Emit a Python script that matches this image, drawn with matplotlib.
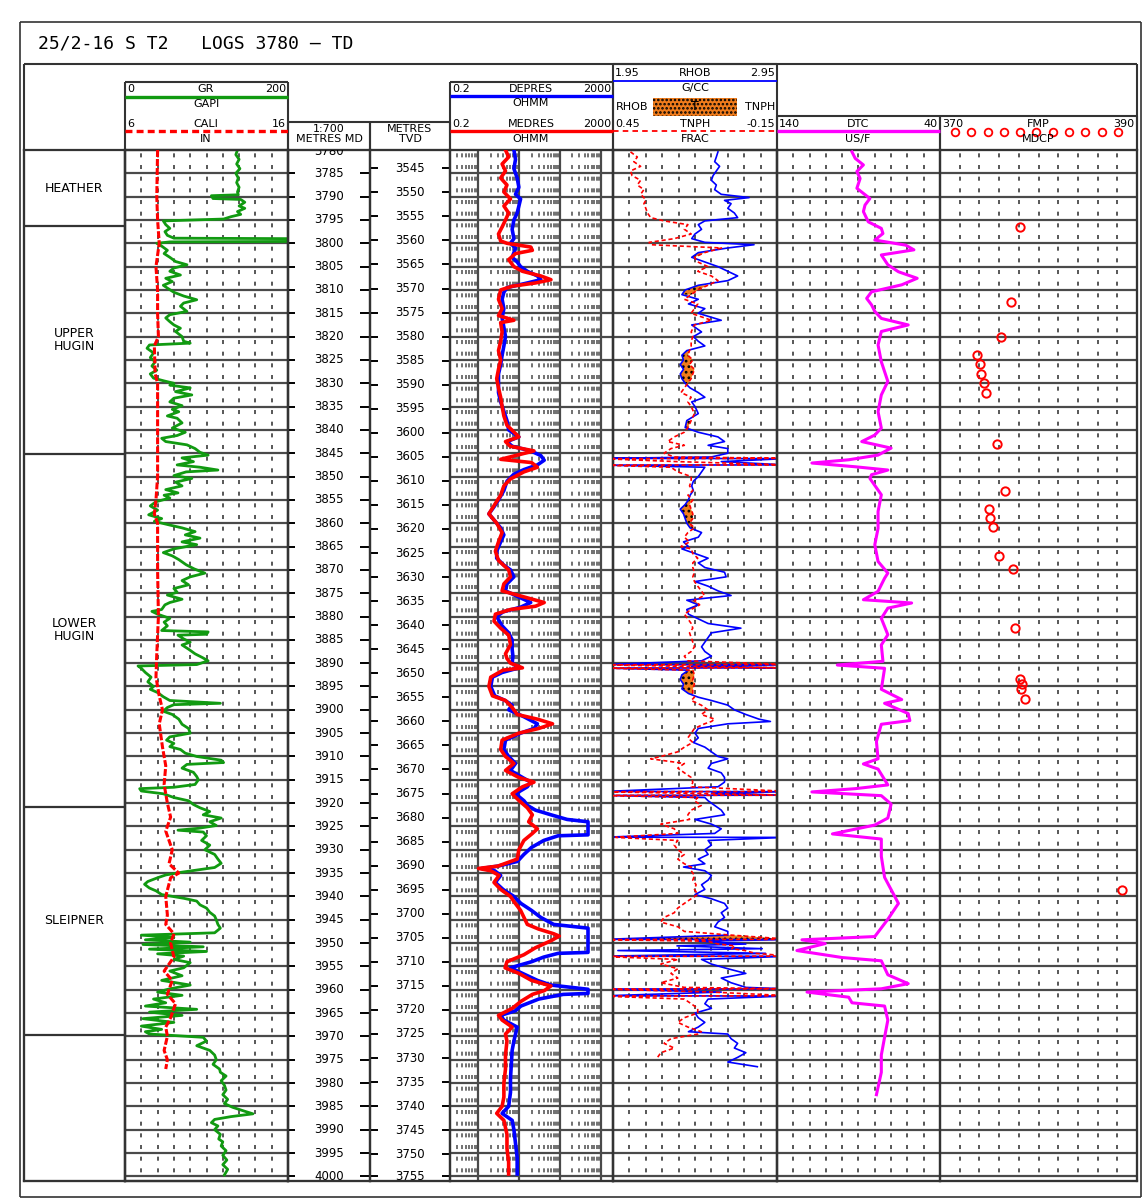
import numpy as np
import matplotlib.pyplot as plt

plt.rcParams['font.family'] = ['DejaVu Sans']
plt.rcParams['lines.scale_dashes'] = False
plt.rcParams['hatch.color'] = 'black'
plt.rcParams['hatch.linewidth'] = 1.2

# ---------------- data ----------------
title = '25/2-16 S T2   LOGS 3780 \u2013 TD'
top_md, base_md = 3780, 4001
md_ticks = list(range(3780, 4001, 5))
tvd_ticks = list(range(3545, 3756, 5))
md_anchor = [3780, 4000]
tvd_anchor = [3541.2, 3754.6]

zone_names = ['HEATHER', 'UPPER\nHUGIN', 'LOWER\nHUGIN', 'SLEIPNER', '']
zone_tops = [3780, 3796.3, 3845.1, 3920.8, 3969.6]
zone_bases = [3796.3, 3845.1, 3920.8, 3969.6, 4001]

gr_depth = [3780.0, 3781.0, 3782.0, 3783.0, 3784.0, 3785.0, 3786.0, 3787.0, 3788.0, 3789.0,
            3789.6, 3789.8, 3790.4, 3790.6, 3791.2, 3792.0, 3792.5, 3793.2, 3793.8, 3794.3,
            3794.8, 3795.2, 3796.0, 3796.8, 3797.5, 3798.3, 3798.9, 3799.0, 3799.6, 3799.7,
            3800.0, 3800.6, 3801.5, 3802.2, 3803.0, 3803.9, 3804.6, 3805.3, 3806.0, 3806.8,
            3807.5, 3808.2, 3809.0, 3809.6, 3810.5, 3811.3, 3812.1, 3812.8, 3813.5, 3814.6,
            3815.3, 3816.0, 3816.8, 3817.5, 3818.2, 3818.9, 3820.0, 3821.0, 3821.4, 3821.8,
            3822.5, 3823.5, 3824.5, 3825.4, 3826.3, 3827.2, 3828.0, 3828.9, 3829.5, 3830.0,
            3830.4, 3831.0, 3831.8, 3832.5, 3833.2, 3834.0, 3834.8, 3835.6, 3836.1, 3837.0,
            3837.5, 3838.5, 3839.6, 3840.5, 3841.2, 3841.8, 3842.5, 3843.2, 3844.0, 3844.8,
            3845.4, 3846.0, 3846.8, 3847.5, 3848.0, 3848.6, 3849.0, 3849.8, 3850.4, 3851.2,
            3852.0, 3852.8, 3853.5, 3854.0, 3854.6, 3855.4, 3856.3, 3857.2, 3858.2, 3859.0,
            3859.6, 3860.4, 3861.0, 3861.8, 3862.5, 3863.2, 3864.0, 3864.6, 3865.5, 3866.3,
            3867.0, 3867.8, 3868.9, 3869.8, 3870.7, 3871.5, 3872.3, 3873.2, 3874.0, 3874.8,
            3875.4, 3876.3, 3877.0, 3877.5, 3878.5, 3878.9, 3879.5, 3880.4, 3881.2, 3882.0,
            3883.0, 3883.3, 3883.8, 3884.0, 3884.8, 3885.5, 3886.1, 3887.0, 3888.0, 3888.8,
            3889.5, 3890.3, 3890.6, 3891.1, 3892.0, 3893.0, 3894.0, 3895.0, 3895.6, 3896.3,
            3897.2, 3898.0, 3898.6, 3898.9, 3899.5, 3900.3, 3901.0, 3902.0, 3903.1, 3904.0,
            3905.0, 3905.8, 3906.5, 3907.2, 3907.9, 3908.5, 3909.3, 3910.0, 3910.8, 3911.3,
            3911.7, 3912.5, 3913.4, 3914.3, 3915.0, 3916.0, 3916.6, 3916.9, 3917.4, 3918.0,
            3918.8, 3919.5, 3920.3, 3921.0, 3921.8, 3922.5, 3923.2, 3924.0, 3924.8, 3925.4,
            3925.8, 3926.2, 3927.0, 3928.0, 3929.0, 3930.0, 3931.0, 3932.0, 3932.9, 3933.8,
            3934.8, 3935.4, 3936.0, 3936.8, 3937.4, 3938.2, 3938.8, 3939.6, 3940.4, 3941.0,
            3941.8, 3942.5, 3943.4, 3944.2, 3945.0, 3946.0, 3946.8, 3947.8, 3948.3, 3948.8,
            3949.3, 3949.8, 3950.3, 3950.8, 3951.3, 3951.8, 3952.3, 3952.8, 3953.5, 3954.2,
            3955.3, 3956.0, 3957.0, 3958.0, 3959.0, 3959.8, 3960.5, 3961.2, 3962.0, 3962.8,
            3963.5, 3964.2, 3964.8, 3965.5, 3966.2, 3967.0, 3967.8, 3968.5, 3969.0, 3969.5,
            3970.2, 3971.0, 3972.0, 3973.0, 3974.0, 3975.0, 3976.0, 3977.0, 3977.7, 3978.5,
            3979.5, 3980.5, 3981.5, 3982.5, 3983.5, 3984.4, 3985.2, 3986.0, 3986.6, 3987.2,
            3987.8, 3988.5, 3989.2, 3990.0, 3991.0, 3992.0, 3992.6, 3993.5, 3994.5, 3995.5,
            3996.5, 3997.5, 3998.5, 3999.7]
gr = [138, 136, 140, 137, 141, 136, 139, 137, 140, 138,
      139, 106, 108, 142, 147, 140, 147, 138, 142, 130,
      121, 47, 50, 55, 49, 52, 60, 199, 199, 55,
      39, 45, 52, 48, 55, 62, 76, 60, 55, 68,
      50, 58, 47, 52, 60, 72, 88, 72, 68, 76,
      55, 50, 55, 60, 68, 62, 70, 72, 80, 30,
      27, 35, 31, 37, 33, 39, 31, 35, 48, 60,
      55, 80, 62, 82, 60, 55, 70, 58, 66, 52,
      64, 70, 58, 74, 64, 45, 50, 76, 86, 92,
      102, 70, 84, 64, 92, 114, 75, 60, 82, 62,
      70, 50, 65, 48, 55, 38, 31, 40, 29, 45,
      36, 55, 70, 86, 74, 92, 70, 88, 60, 47,
      58, 66, 75, 85, 98, 80, 70, 78, 60, 64,
      52, 70, 55, 49, 45, 33, 40, 55, 48, 52,
      45, 102, 100, 65, 72, 80, 70, 78, 86, 95,
      102, 88, 16, 20, 25, 32, 28, 35, 31, 40,
      47, 55, 117, 60, 52, 47, 58, 66, 70, 78,
      80, 55, 51, 60, 55, 68, 74, 88, 118, 121,
      76, 70, 84, 88, 90, 86, 60, 18, 20, 47,
      60, 78, 84, 92, 104, 96, 118, 104, 112, 90,
      65, 96, 100, 94, 104, 98, 110, 114, 118, 110,
      70, 50, 40, 28, 24, 30, 38, 45, 72, 88,
      92, 100, 104, 110, 112, 114, 117, 110, 20, 60,
      25, 80, 22, 96, 30, 100, 40, 72, 60, 80,
      72, 55, 70, 45, 80, 55, 40, 70, 35, 50,
      25, 88, 30, 70, 22, 60, 20, 45, 25, 30,
      96, 100, 88, 104, 110, 112, 108, 116, 117, 124,
      118, 122, 124, 120, 126, 122, 132, 146, 157, 130,
      110, 106, 114, 110, 117, 115, 120, 118, 124, 120,
      125, 120, 126, 122]

cali_depth = [3780, 3790, 3795, 3800, 3805, 3810, 3815, 3820, 3822, 3828, 3830, 3840, 3850,
              3855, 3858, 3860, 3870, 3880, 3888, 3893, 3897, 3900, 3903, 3908, 3912, 3916,
              3920, 3923, 3926, 3930, 3933, 3935, 3936, 3940, 3944, 3946, 3948, 3950, 3953,
              3956, 3958, 3961, 3963, 3966, 3968, 3970, 3973, 3975, 3977]
cali = [8.0, 7.95, 8.0, 8.1, 7.9, 8.0, 8.0, 8.05, 7.8, 7.85, 8.0, 8.0, 8.0,
        7.9, 7.8, 8.0, 8.0, 8.05, 7.95, 7.9, 8.1, 8.3, 8.1, 8.3, 8.5, 8.4,
        8.6, 8.8, 8.5, 8.9, 8.7, 9.3, 8.8, 8.5, 8.6, 8.5, 9.0, 8.8, 9.0,
        8.4, 8.9, 8.6, 9.1, 8.8, 8.5, 8.6, 8.4, 8.6, 8.5]

deep_depth = [3780, 3782, 3784, 3786, 3788, 3789.5, 3790.5, 3792, 3793.5, 3795, 3797, 3799,
              3800, 3801, 3802, 3803, 3804, 3805, 3806, 3807, 3807.8, 3808.5, 3809.5, 3810.5,
              3812, 3814, 3816, 3818, 3820, 3822, 3824, 3826, 3828, 3830, 3832, 3834, 3836,
              3838, 3840, 3841.5, 3842.5, 3843.5, 3844.5, 3845.5, 3846.5, 3847.5, 3848.5,
              3849.5, 3851, 3853, 3855, 3856.5, 3858, 3859.5, 3861, 3862.5, 3864, 3866,
              3867.5, 3869, 3870, 3871.5, 3873, 3874.5, 3876, 3877, 3878, 3879, 3880, 3882,
              3883.5, 3885, 3887, 3888.5, 3890, 3891, 3892, 3893, 3895, 3897, 3898, 3899,
              3900, 3901.5, 3903, 3904, 3905, 3906.5, 3908.5, 3910, 3911.5, 3913, 3914.5,
              3915.5, 3916.5, 3918, 3919.5, 3920.5, 3921.5, 3922.5, 3923.5, 3924, 3926.8,
              3927, 3928, 3929.5, 3931, 3932.5, 3933.5, 3934, 3934.5, 3935.5, 3937, 3938.5,
              3940, 3941.5, 3943, 3944.5, 3946, 3946.8, 3952, 3952.2, 3953, 3954, 3955.3,
              3956.5, 3958, 3959, 3959.9, 3960.8, 3961, 3962, 3963.5, 3964.5, 3965.5,
              3966.5, 3968, 3969.5, 3971, 3973, 3976, 3979, 3982, 3985, 3986.5, 3988, 3990,
              3993, 3996, 3999.5]
deep_res = [7.4, 8.1, 7.4, 8.9, 9.8, 8.1, 10.8, 9.8, 8.9, 7.4, 6.7, 7.4,
            6.1, 8.1, 7.4, 6.7, 8.9, 10.8, 15.8, 27.9, 33.8, 15.8, 5.0, 4.2,
            3.8, 4.2, 3.8, 4.2, 4.6, 4.2, 3.8, 3.5, 3.1, 3.1, 3.1, 3.5, 4.2,
            5.0, 5.5, 9.8, 5.0, 6.7, 19.1, 33.8, 41, 27.9, 13.1,
            7.4, 5.0, 4.2, 3.1, 2.4, 1.8, 2.5, 3.5, 4.2, 3.5, 2.8,
            2.8, 4.2, 6.1, 7.4, 5.0, 4.6, 10.8, 19.1, 10.8, 4.0, 2.8, 3.8,
            5.5, 6.7, 6.7, 7.0, 6.7, 9.8, 3.8, 2.2, 2.0, 2.5, 4.5, 6.7,
            5.5, 13.1, 27.9, 23, 10.8, 4.6, 4.2, 5.5, 8.1, 6.1, 12,
            19.1, 15.8, 8.1, 13.1, 16, 25, 60, 150, 487, 487,
            90, 40, 20, 13, 9.0, 3.0, 1.2, 2.5, 3.5, 2.6, 4.0,
            7.4, 11, 20, 33.8, 70, 487, 487, 90, 40, 20, 6.1,
            12, 28, 60, 487, 487, 120, 30, 11, 8.1, 3.5,
            4.2, 8.9, 8.1, 7.4, 6.7, 6.4, 6.1, 6.1, 5.5, 3.8, 6.7, 7.4,
            8.1, 8.9, 8.9]

med_depth = [3780, 3781.5, 3783, 3784.5, 3786, 3787.5, 3789, 3790.5, 3792, 3793.5, 3795,
             3796.5, 3798, 3799.5, 3800, 3800.8, 3801.5, 3802.2, 3803.5, 3805, 3806, 3807,
             3807.8, 3808.5, 3809.2, 3810, 3812, 3814, 3815.5, 3816.5, 3817, 3819, 3821,
             3823, 3825, 3827, 3829, 3831, 3833, 3835, 3837, 3839, 3841.5, 3842.5, 3843.5,
             3844.5, 3845.5, 3846.3, 3847, 3848, 3849, 3850.5, 3852, 3854, 3856, 3858, 3860,
             3862, 3864, 3866, 3868, 3870, 3871.5, 3873, 3874.5, 3876, 3877, 3877.8, 3878.5,
             3879.5, 3881, 3882.5, 3884, 3886, 3888, 3889, 3890, 3891, 3891.5, 3893, 3895,
             3897, 3898, 3899.5, 3901, 3902, 3903, 3904, 3905, 3906.5, 3908.5, 3910, 3911.5,
             3913, 3914.5, 3915.5, 3916.5, 3918, 3919.5, 3921, 3922.5, 3924, 3925.5, 3926.5,
             3928, 3930, 3932, 3933.5, 3934, 3934.5, 3935.5, 3937, 3938.5, 3940, 3941.5,
             3943, 3944.5, 3946, 3947, 3948, 3948.5, 3949.5, 3951, 3952.5, 3954, 3955.3,
             3956.5, 3958, 3959.2, 3960.2, 3961, 3962.5, 3964, 3965.5, 3966.5, 3968, 3969.5,
             3971, 3974, 3977, 3980, 3983, 3985, 3986.5, 3988, 3991, 3994, 3997, 3999.5]
med_res = [4.6, 5.5, 3.8, 4.6, 3.5, 5.0, 4.2, 6.1, 4.2, 5.5, 4.6,
           3.8, 3.1, 3.5, 5.0, 19.1, 21, 8.1, 5.5, 7.4, 12, 33.8,
           60, 25, 6.7, 3.5, 3.1, 3.8, 3.1, 7.4, 3.5, 3.8, 3.5,
           3.1, 3.5, 3.1, 2.8, 3.1, 3.5, 3.8, 4.2, 5.0, 9.8, 4.6, 6.0,
           23, 8.0, 3.5, 20, 28, 13, 6.1, 4.2, 3.5, 2.5, 1.8, 2.8,
           3.8, 3.1, 2.6, 3.1, 5.5, 6.1, 4.2, 3.8, 15.8, 41, 25, 6.1,
           2.6, 2.4, 3.5, 5.5, 6.1, 4.6, 5.0, 6.1, 12, 4.0, 2.0, 1.8,
           2.2, 4.6, 6.7, 8.9, 27.9, 65.7, 30, 9.8, 3.8, 3.5, 4.6, 7.4,
           4.6, 9.8, 23, 12, 6.7, 10, 15.8, 21, 17, 28, 21,
           13, 9.8, 8.9, 3.0, 1.0, 2.0, 3.2, 2.4, 3.5, 6.1, 8,
           10.8, 13.1, 15.8, 30, 70, 96, 60, 25, 13, 5.0, 4.5,
           9.8, 20, 60, 41, 21, 11, 6.7, 3.1, 3.8, 6.7, 4.6,
           5.0, 4.6, 4.6, 4.2, 4.2, 3.8, 2.8, 4.2, 5.0, 5.0, 5.5, 5.5]

den_depth = [3780.4, 3781.5, 3782.5, 3783.5, 3784.5, 3785.5, 3786.5, 3787.5, 3788.5, 3789.5,
             3790.2, 3790.8, 3791.5, 3792.5, 3793.5, 3794.5, 3795.2, 3796.0, 3797.0, 3798.0,
             3799.0, 3799.8, 3800.3, 3801.0, 3802.0, 3803.0, 3804.0, 3805.0, 3806.0, 3807.0,
             3808.0, 3809.0, 3810.0, 3811.0, 3812.0, 3813.0, 3814.0, 3815.0, 3816.5, 3817.5,
             3819.0, 3820.0, 3821.0, 3822.0, 3823.0, 3824.0, 3825.0, 3826.0, 3827.0, 3828.0,
             3829.0, 3830.0, 3831.0, 3832.0, 3833.0, 3834.0, 3835.0, 3836.5, 3838.0, 3839.5,
             3840.5, 3841.5, 3842.5, 3843.3, 3844.0, 3845.0, 3845.8, 3846.1, 3846.15, 3846.8,
             3847.5, 3847.55, 3848.0, 3849.0, 3850.0, 3851.0, 3852.0, 3853.0, 3854.0, 3855.0,
             3856.0, 3857.0, 3858.0, 3859.0, 3860.0, 3861.0, 3862.0, 3863.0, 3864.0, 3865.0,
             3865.5, 3866.5, 3867.5, 3868.5, 3869.5, 3870.5, 3871.5, 3872.5, 3873.5, 3874.5,
             3875.5, 3876.5, 3877.5, 3878.5, 3879.5, 3880.5, 3881.5, 3882.5, 3883.5, 3884.5,
             3885.5, 3886.5, 3887.5, 3888.5, 3889.5, 3890.3, 3890.35, 3890.7, 3891.0, 3891.05,
             3891.5, 3892.5, 3893.5, 3894.5, 3895.5, 3896.5, 3897.3, 3898.0, 3899.0, 3900.0,
             3901.0, 3902.0, 3902.5, 3903.0, 3904.0, 3905.0, 3906.0, 3907.0, 3908.0, 3909.0,
             3910.0, 3910.5, 3911.5, 3912.5, 3913.5, 3914.5, 3915.5, 3916.5, 3917.5, 3917.55,
             3917.9, 3918.3, 3918.35, 3918.8, 3919.5, 3920.5, 3921.5, 3922.5, 3923.5, 3924.5,
             3925.5, 3926.5, 3927.3, 3927.35, 3928.0, 3929.0, 3930.0, 3931.0, 3932.0, 3933.0,
             3933.7, 3934.5, 3935.5, 3936.5, 3937.5, 3938.5, 3939.6, 3940.5, 3941.5, 3942.5,
             3943.5, 3944.5, 3945.5, 3946.5, 3947.5, 3948.3, 3949.2, 3949.25, 3949.6, 3950.2,
             3950.6, 3951.2, 3951.6, 3952.2, 3952.8, 3952.85, 3953.5, 3954.5, 3955.5, 3956.5,
             3957.5, 3958.5, 3959.5, 3959.8, 3959.85, 3960.5, 3961.3, 3961.35, 3962.0, 3963.0,
             3964.0, 3965.0, 3966.0, 3967.0, 3968.0, 3969.0, 3969.5, 3970.5, 3971.5, 3972.5,
             3973.5, 3974.5, 3975.5, 3976.5]
rhob = [2.59, 2.58, 2.57, 2.60, 2.58, 2.56, 2.55, 2.58, 2.57, 2.61,
        2.78, 2.63, 2.67, 2.65, 2.69, 2.71, 2.51, 2.47, 2.49, 2.45,
        2.43, 2.51, 2.81, 2.65, 2.47, 2.43, 2.51, 2.59, 2.65, 2.71,
        2.65, 2.47, 2.39, 2.37, 2.47, 2.41, 2.51, 2.47, 2.61, 2.43,
        2.49, 2.44, 2.47, 2.51, 2.40, 2.37, 2.38, 2.36, 2.38, 2.36,
        2.37, 2.39, 2.42, 2.47, 2.51, 2.43, 2.45, 2.47, 2.40, 2.39,
        2.47, 2.59, 2.63, 2.53, 2.65, 2.65, 2.55, 1.90, 3.00, 2.61,
        3.00, 1.90, 2.51, 2.49, 2.47, 2.44, 2.43, 2.44, 2.42, 2.41,
        2.39, 2.36, 2.38, 2.39, 2.40, 2.42, 2.49, 2.47, 2.38, 2.41,
        2.37, 2.45, 2.53, 2.47, 2.51, 2.63, 2.64, 2.45, 2.53, 2.59,
        2.67, 2.40, 2.47, 2.40, 2.41, 2.47, 2.53, 2.73, 2.55, 2.53,
        2.51, 2.49, 2.51, 2.55, 2.49, 1.90, 3.00, 2.43, 3.00, 1.90,
        2.41, 2.37, 2.36, 2.38, 2.37, 2.41, 2.47, 2.55, 2.65, 2.69,
        2.76, 2.84, 2.91, 2.65, 2.47, 2.45, 2.47, 2.44, 2.51, 2.55,
        2.59, 2.65, 2.55, 2.53, 2.61, 2.63, 2.63, 2.59, 1.90, 3.00,
        2.55, 3.00, 1.90, 2.51, 2.53, 2.57, 2.61, 2.63, 2.45, 2.55,
        2.61, 2.57, 1.90, 3.00, 2.53, 2.55, 2.51, 2.53, 2.47, 2.51,
        2.38, 2.51, 2.55, 2.53, 2.49, 2.51, 2.45, 2.55, 2.63, 2.65,
        2.61, 2.63, 2.59, 2.57, 2.65, 2.65, 1.90, 3.00, 2.47, 2.76,
        2.34, 2.86, 1.98, 2.88, 1.90, 3.00, 2.49, 2.55, 2.65, 2.76,
        2.61, 2.67, 2.76, 3.00, 1.90, 2.61, 1.90, 3.00, 2.53, 2.51,
        2.55, 2.45, 2.47, 2.51, 2.47, 2.41, 2.65, 2.67, 2.71, 2.69,
        2.76, 2.71, 2.65, 2.83]
tnph = [0.386, 0.361, 0.374, 0.349, 0.386, 0.380, 0.349, 0.361, 0.337, 0.349,
        0.337, 0.330, 0.337, 0.330, 0.324, 0.312, 0.263, 0.176, 0.189, 0.164,
        0.226, 0.318, 0.312, 0.053, 0.115, 0.152, 0.140, 0.103, 0.140, 0.090,
        0.066, 0.103, 0.140, 0.164, 0.189, 0.140, 0.152, 0.164, 0.090, 0.152,
        0.164, 0.158, 0.164, 0.164, 0.170, 0.176, 0.158, 0.170, 0.152, 0.158,
        0.164, 0.176, 0.189, 0.201, 0.164, 0.176, 0.164, 0.152, 0.164, 0.176,
        0.189, 0.226, 0.250, 0.189, 0.238, 0.263, 0.226, -0.20, 0.50, 0.213,
        -0.20, 0.50, 0.238, 0.213, 0.164, 0.164, 0.170, 0.158, 0.176, 0.158,
        0.170, 0.164, 0.158, 0.158, 0.170, 0.152, 0.176, 0.189, 0.170, 0.201,
        0.164, 0.158, 0.140, 0.158, 0.158, 0.152, 0.158, 0.152, 0.140, 0.127,
        0.115, 0.152, 0.133, 0.164, 0.189, 0.176, 0.164, 0.158, 0.170, 0.164,
        0.158, 0.152, 0.164, 0.189, 0.176, -0.20, 0.50, 0.170, -0.20, 0.50,
        0.158, 0.152, 0.158, 0.152, 0.158, 0.158, 0.152, 0.164, 0.127, 0.103,
        0.127, 0.078, 0.090, 0.115, 0.152, 0.164, 0.176, 0.158, 0.189, 0.213,
        0.275, 0.312, 0.189, 0.213, 0.189, 0.164, 0.158, 0.164, -0.20, 0.50,
        0.164, -0.20, 0.50, 0.140, 0.152, 0.127, 0.164, 0.176, 0.170, 0.275,
        0.226, 0.213, 0.44, 0.44, 0.213, 0.226, 0.213, 0.189, 0.213, 0.189,
        0.164, 0.164, 0.152, 0.158, 0.146, 0.152, 0.140, 0.164, 0.189, 0.213,
        0.226, 0.263, 0.275, 0.213, 0.189, 0.016, -0.20, 0.50, 0.103, 0.066,
        0.004, 0.016, -0.033, -0.070, -0.20, 0.50, 0.213, 0.275, 0.213, 0.238,
        0.213, 0.275, 0.189, -0.20, 0.50, 0.090, -0.20, 0.50, 0.189, 0.164,
        0.140, 0.140, 0.189, 0.213, 0.176, 0.127, 0.140, 0.238, 0.263, 0.226,
        0.275, 0.287, np.nan, np.nan]

dtc_depth = [3780.4, 3781.8, 3783.2, 3784.6, 3786.1, 3788.2, 3790.4, 3791.8, 3793.2, 3795.4,
             3796.8, 3797.9, 3799.3, 3800.4, 3801.4, 3802.5, 3804.6, 3806.1, 3807.5, 3808.9,
             3810.4, 3811.8, 3813.2, 3814.6, 3816.1, 3817.5, 3818.9, 3821.8, 3825.4, 3829.6,
             3832.5, 3836.1, 3839.6, 3841.1, 3842.5, 3843.9, 3845.4, 3846.4, 3847.1, 3847.9,
             3848.6, 3849.6, 3850.4, 3853.9, 3857.5, 3861.1, 3864.6, 3868.2, 3870.7, 3871.8,
             3874.6, 3876.4, 3877.1, 3878.2, 3880.4, 3883.9, 3886.1, 3889.6, 3890.4, 3891.1,
             3895.6, 3897.8, 3898.6, 3900.8, 3902.3, 3903.1, 3906.8, 3910.5, 3911.6, 3912.7,
             3916.1, 3916.9, 3917.6, 3918.4, 3920.2, 3923.2, 3924.7, 3926.6, 3927.7, 3931.4,
             3935.9, 3941.5, 3944.9, 3948.6, 3949.3, 3950.1, 3951.6, 3953.1, 3953.8, 3956.8,
             3958.7, 3959.8, 3960.5, 3961.6, 3962.8, 3963.5, 3966.5, 3970.2, 3974.0, 3977.7,
             3982.5]
dtc = [94, 92, 87, 91, 89, 91, 83, 86, 87, 84,
       76, 75, 80, 61, 56, 76, 72, 65.5, 54, 63.5,
       82, 85, 82, 80, 76, 59.5, 76, 78, 76, 72,
       76, 78, 76, 80, 88, 70, 78, 96, 118.6, 92,
       72, 82, 83, 76, 78, 78, 80, 78, 72, 74,
       78, 87, 57.4, 72, 76, 72, 76, 75, 103, 74,
       76, 63.5, 74, 59.5, 58.5, 76, 79, 78, 87, 78,
       72, 92, 118.6, 76, 70, 72, 80, 106, 76, 76,
       74, 65.5, 72, 80, 124.7, 110.4, 127.8, 100, 76, 72,
       59.5, 76, 121.6, 96, 94, 74, 72, 74, 76, 76,
       79]

fmp_depth = [3796.4, 3812.5, 3820.1, 3823.9, 3825.9, 3828.1, 3830.0, 3832.0, 3843.1,
             3853.0, 3856.9, 3858.9, 3860.9, 3867.0, 3869.9, 3882.4, 3893.4, 3894.5,
             3895.6, 3897.7, 3938.7]
fmp = [378.1, 377.2, 376.2, 373.8, 374.1, 374.2, 374.5, 374.7, 375.8,
       376.6, 375.0, 375.1, 375.4, 376.0, 377.4, 377.6, 378.1, 378.3,
       378.2, 378.6, 388.5]

# ---------------- layout (pixels) ----------------
W, H = 1147, 1204
Y_TOP, Y_BOT = 150, 1181
GRID = '#4a4a4a'
GREEN, RED, BLUE, MAG, ORANGE = '#119a11', '#ff0000', '#0000ff', '#ff00ff', '#f07c1c'
FS = 8

fig = plt.figure(figsize=(W / 100, H / 100), dpi=100)

ov = fig.add_axes([0, 0, 1, 1])
ov.set_xlim(0, W)
ov.set_ylim(H, 0)
ov.axis('off')


def seg(x0, y0, x1, y1, **kw):
    kw.setdefault('color', '#333333')
    kw.setdefault('lw', 1.5)
    ov.plot([x0, x1], [y0, y1], solid_capstyle='butt', **kw)


def rect(x0, y0, x1, y1, **kw):
    seg(x0, y0, x1, y0, **kw)
    seg(x0, y1, x1, y1, **kw)
    seg(x0, y0, x0, y1, **kw)
    seg(x1, y0, x1, y1, **kw)


def txt(x, y, s, ha='center', fs=FS, **kw):
    ov.text(x, y, s, ha=ha, va='center', fontsize=fs, **kw)


def track(x0, x1):
    ax = fig.add_axes([x0 / W, 1 - Y_BOT / H, (x1 - x0) / W, (Y_BOT - Y_TOP) / H])
    ax.set_ylim(base_md, top_md)
    ax.set_xticks([])
    ax.set_yticks([])
    ax.patch.set_alpha(0)
    for s in ax.spines.values():
        s.set_linewidth(1.6)
        s.set_color('#333333')
    return ax


DASH = (6.0, (2.9, 5.5))


def grid_lin(ax, lo, hi):
    ax.set_xlim(lo, hi)
    ax.hlines(md_ticks[1:], lo, hi, colors=GRID, lw=1.6, zorder=1)
    ax.vlines(np.linspace(lo, hi, 11)[1:-1], top_md, base_md, colors=GRID, lw=1.3,
              linestyles=[DASH], zorder=1)


# outer frame, plot frame and title
rect(20, 22, 1141, 1197, lw=1.2)
rect(24, 64, 1137, Y_BOT)
txt(38, 44, title, ha='left', fs=13, family='DejaVu Sans Mono')

# header boxes
rect(125, 82, 288, Y_TOP)
rect(288, 122, 370, Y_TOP)
rect(370, 122, 450, Y_TOP)
rect(450, 82, 613, Y_TOP)
rect(613, 64, 777, Y_TOP)
rect(777, 116, 940, Y_TOP)
rect(940, 116, 1137, Y_TOP)

# GR / CALI header
txt(127, 89, '0', ha='left'); txt(206, 89, 'GR'); txt(286, 89, '200', ha='right')
seg(125, 97, 288, 97, color=GREEN, lw=2.4)
txt(206, 104, 'GAPI')
txt(127, 124, '6', ha='left'); txt(206, 124, 'CALI'); txt(286, 124, '16', ha='right')
seg(125, 131, 288, 131, color=RED, lw=2.4, ls=(0, (5, 3)))
txt(206, 139, 'IN')
# depth headers
txt(329, 129, '1:700'); txt(329, 139, 'METRES MD')
txt(410, 129, 'METRES'); txt(410, 139, 'TVD')
# resistivity header
txt(452, 89, '0.2', ha='left'); txt(531, 89, 'DEPRES'); txt(611, 89, '2000', ha='right')
seg(450, 96, 613, 96, color=BLUE, lw=2.4)
txt(531, 103, 'OHMM')
txt(452, 124, '0.2', ha='left'); txt(531, 124, 'MEDRES'); txt(611, 124, '2000', ha='right')
seg(450, 131, 613, 131, color=RED, lw=2.4)
txt(531, 139, 'OHMM')
# density / neutron header
txt(615, 73, '1.95', ha='left'); txt(695, 73, 'RHOB'); txt(775, 73, '2.95', ha='right')
seg(613, 81, 777, 81, color=BLUE, lw=1.3)
txt(695, 88, 'G/CC')
txt(616, 107, 'RHOB', ha='left'); txt(775, 107, 'TNPH', ha='right')
ov.add_patch(plt.Rectangle((653, 98), 84, 18, facecolor=ORANGE, edgecolor='black',
                           lw=0, hatch='....'))
txt(695, 107, 'T', fs=9)
txt(615, 124, '0.45', ha='left'); txt(695, 124, 'TNPH'); txt(775, 124, '-0.15', ha='right')
seg(613, 131, 777, 131, color=RED, lw=1.3, ls=(0, (4, 3)))
txt(695, 139, 'FRAC')
# sonic header
txt(779, 124, '140', ha='left'); txt(858, 124, 'DTC'); txt(938, 124, '40', ha='right')
seg(777, 131, 940, 131, color=MAG, lw=2.4)
txt(858, 139, 'US/F')
# pressure header
txt(942, 124, '370', ha='left'); txt(1038, 124, 'FMP'); txt(1134, 124, '390', ha='right')
hdr_x = np.arange(955, 1125, 16.3)
ov.plot(hdr_x, [132] * len(hdr_x), 'o', mfc='none', mec=RED, ms=5.5, mew=1.3)
txt(1038, 139, 'MDCP')

# ---------------- tracks ----------------
# zones
axz = track(24, 125)
axz.set_xlim(0, 1)
axz.hlines(zone_tops[1:], 0, 1, colors='#333333', lw=1.6)
for name, t, b in zip(zone_names, zone_tops, zone_bases):
    axz.text(0.5, (t + b) / 2, name, ha='center', va='center', fontsize=9,
             linespacing=1.0)

# GR / CALI
axg = track(125, 288)
grid_lin(axg, 0, 200)
axg.plot(gr, gr_depth, color=GREEN, lw=2.0, zorder=3)
axc = track(125, 288)
axc.set_xlim(6, 16)
axc.plot(cali, cali_depth, color=RED, lw=2.2, ls=(0, (5, 1.5)), zorder=4)

# MD column
axm = track(288, 370)
axm.set_xlim(288, 370)
axm.hlines(md_ticks, 360, 370, colors='black', lw=1.4)
axm.hlines(md_ticks, 288, 295, colors='black', lw=1.4)
for d in md_ticks:
    yd = d + 0.35 if d == top_md else d
    axm.text(329, yd, str(d), ha='center', va='center', fontsize=8.5, clip_on=True)

# TVD column
axt = track(370, 450)
axt.set_xlim(370, 450)
tvd_pos = np.interp(tvd_ticks, tvd_anchor, md_anchor)
axt.hlines(tvd_pos, 370, 378, colors='black', lw=1.4)
axt.hlines(tvd_pos, 442, 450, colors='black', lw=1.4)
for t, p in zip(tvd_ticks, tvd_pos):
    axt.text(410, p, str(t), ha='center', va='center', fontsize=8.5, clip_on=True)

# resistivity
axr = track(450, 613)
axr.set_xscale('log')
axr.set_xlim(0.2, 2000)
axr.set_xticks([])
axr.minorticks_off()
axr.hlines(md_ticks[1:], 0.2, 2000, colors=GRID, lw=1.6, zorder=1)
axr.vlines([1, 10, 100, 1000], top_md, base_md, colors=GRID, lw=1.6, zorder=1)
minors = [m * 10.0 ** k for k in (-1, 0, 1, 2) for m in range(2, 10) if m * 10.0 ** k > 0.25]
axr.vlines(minors, top_md, base_md, colors=GRID, lw=1.1, linestyles=[DASH], zorder=1)
axr.plot(deep_res, deep_depth, color=BLUE, lw=2.6, zorder=3)
axr.plot(med_res, med_depth, color=RED, lw=2.6, zorder=4)

# density / neutron
axd = track(613, 777)
grid_lin(axd, 1.95, 2.95)
axn = track(613, 777)
axn.set_xlim(0.45, -0.15)
rh = np.array(rhob)
tn = np.array(tnph)
tn_on_rhob = 1.95 + (0.45 - tn) / 0.6
axd.fill_betweenx(den_depth, rh, tn_on_rhob, where=rh < tn_on_rhob, facecolor=ORANGE,
                  edgecolor='black', lw=0, hatch='...', zorder=2)
axd.plot(rhob, den_depth, color=BLUE, lw=1.2, zorder=3)
axn.plot(tnph, den_depth, color=RED, lw=1.2, ls=(0, (3, 2)), zorder=4)

# sonic
axs = track(777, 940)
grid_lin(axs, 140, 40)
axs.plot(dtc, dtc_depth, color=MAG, lw=2.2, zorder=3)

# pressure points
axp = track(940, 1137)
grid_lin(axp, 370, 390)
axp.plot(fmp, fmp_depth, 'o', mfc='none', mec=RED, ms=6, mew=1.4, zorder=3)

fig.savefig('out.png', dpi=100)
